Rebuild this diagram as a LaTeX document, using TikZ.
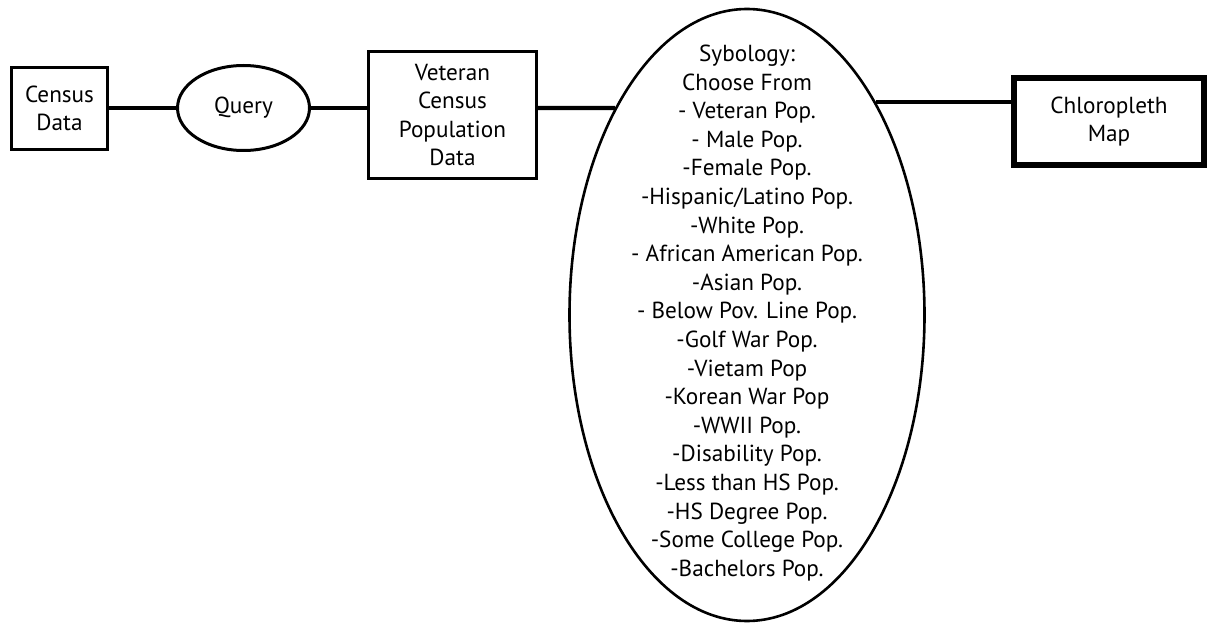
\documentclass[tikz,border=0pt]{standalone}
\usepackage{fontspec}
\setmainfont{PT Sans}
\usetikzlibrary{shapes.geometric,intersections}
\begin{document}
\begin{tikzpicture}[x=1bp,y=-1bp,
  lbl/.style={align=center,font=\fontsize{23.3}{28.7}\selectfont},
  box/.style={lbl,draw,rectangle,line width=3.3bp,inner sep=2bp},
  oval/.style={lbl,draw,ellipse,line width=3bp,inner sep=0pt},
  bigoval/.style={draw,ellipse,line width=2.6bp,inner sep=0pt},
  link/.style={line width=4.2bp},
  thinlink/.style={line width=3.4bp}]
\useasboundingbox (0,0) rectangle (1210,626);
\node[box,minimum width=96bp,minimum height=82bp] (census) at (59.5,108.5) {Census\\Data};
\node[oval,minimum width=132bp,minimum height=85bp] (query) at (243.5,108) {Query};
\node[box,minimum width=168bp,minimum height=127bp] (veteran) at (452.5,115) {Veteran\\Census\\Population\\Data};
\node[bigoval,minimum width=355bp,minimum height=612bp] (sym) at (747,315) {};
\node[lbl,inner sep=0pt] (symtext) at (747,313) {Sybology:\\Choose From\\- Veteran Pop.\\- Male Pop.\\-Female Pop.\\-Hispanic/Latino Pop.\\-White Pop.\\- African American Pop.\\-Asian Pop.\\- Below Pov. Line Pop.\\-Golf War Pop.\\-Vietam Pop\\-Korean War Pop\\-WWII Pop.\\-Disability Pop.\\-Less than HS Pop.\\-HS Degree Pop.\\-Some College Pop.\\-Bachelors Pop.};
\node[box,line width=6.5bp,minimum width=190bp,minimum height=87bp] (chloro) at (1109,121.5) {Chloropleth\\Map};
\path[name path=symborder] (sym.center) ellipse [x radius=178.8, y radius=307.3];
\path[name path=leftline] (veteran.east |- query.east) -- ++(200,0);
\path[name path=rightline] (chloro.west |- 0,102) -- ++(-250,0);
\path[name intersections={of=leftline and symborder, by=symL}];
\path[name intersections={of=rightline and symborder, by=symR}];
\draw[link] (census.east |- query.west) -- (query.west);
\draw[link] (query.east) -- (query.east -| veteran.west);
\draw[link] (veteran.east |- query.east) -- (symL);
\draw[thinlink] (symR) -- (symR -| chloro.west);
\end{tikzpicture}
\end{document}
